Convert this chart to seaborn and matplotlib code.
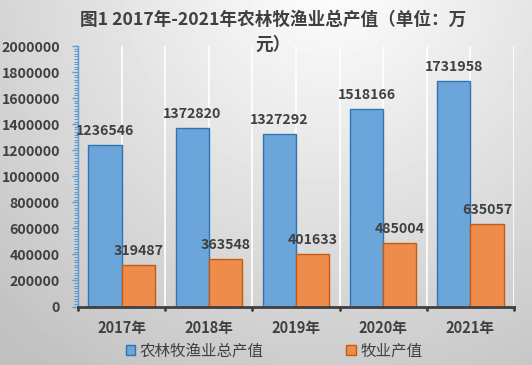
import numpy as np
import pandas as pd
import matplotlib
matplotlib.use("Agg")
import matplotlib.pyplot as plt
from matplotlib.ticker import MultipleLocator, FixedLocator, StrMethodFormatter
import seaborn as sns

# chart data
years = ["2017年", "2018年", "2019年", "2020年", "2021年"]
total_output = [1236546, 1372820, 1327292, 1518166, 1731958]
animal_output = [319487, 363548, 401633, 485004, 635057]
series_names = ["农林牧渔业总产值", "牧业产值"]

df = pd.DataFrame({
    "year": years * 2,
    "value": total_output + animal_output,
    "series": [series_names[0]] * len(years) + [series_names[1]] * len(years),
})

sns.set_style("white")
plt.rcParams['font.family'] = ['Noto Sans CJK SC', 'DejaVu Sans']
txt = "#404040"
fills = ["#6ca5da", "#ee8c4b"]
edges = ["#2e75b6", "#c55a11"]

fig = plt.figure(figsize=(5.32, 3.65), dpi=100)

# gradient background
bg = fig.add_axes([0, 0, 1, 1], zorder=-1)
yy, xx = np.mgrid[0:365, 0:532]
d = np.sqrt((xx - 330) ** 2 + (yy + 30) ** 2)
shade = 1 - 0.25 * np.clip(d / 500, 0, 1)
bg.imshow(shade, cmap="gray", vmin=0, vmax=1, aspect="auto")
bg.axis("off")

ax = fig.add_axes([78 / 532, 1 - 306.5 / 365, (514 - 78) / 532, (306.5 - 46) / 365])
ax.patch.set_alpha(0)

sns.barplot(data=df, x="year", y="value", hue="series", palette=fills,
            saturation=1, width=0.76, ax=ax, legend=False, zorder=3)
for cont, ec in zip(ax.containers, edges):
    for b in cont:
        b.set_edgecolor(ec)
        b.set_linewidth(1)
    ax.bar_label(cont, fmt="{:.0f}", padding=5, fontsize=10.2,
                 fontweight="bold", color=txt)

ax.set_xlim(-0.5, 4.5)
ax.set_ylim(0, 2000000)
ax.yaxis.set_major_locator(MultipleLocator(200000))
ax.yaxis.set_minor_locator(MultipleLocator(20000))
ax.yaxis.set_major_formatter(StrMethodFormatter("{x:.0f}"))
ax.xaxis.set_minor_locator(FixedLocator(np.arange(-0.5, 4.6, 0.5)))
ax.set_xlabel("")
ax.set_ylabel("")

ax.grid(axis="x", which="both", color="white", lw=1.2, zorder=0)
ax.set_axisbelow(True)

for s in ["top", "right"]:
    ax.spines[s].set_visible(False)
ax.spines["left"].set_color("#5b9bd5")
ax.spines["left"].set_linewidth(1)
ax.spines["bottom"].set_color(txt)
ax.spines["bottom"].set_linewidth(2)
ax.spines["bottom"].set_zorder(5)

ax.tick_params(axis="y", which="major", direction="out", color="#5b9bd5",
               length=4, width=1, labelsize=10.2, labelcolor=txt, left=True,
               pad=9)
ax.tick_params(axis="y", which="minor", direction="out", color="#5b9bd5",
               length=3, width=0.8, left=True)
ax.tick_params(axis="x", which="major", length=0, pad=10,
               labelsize=10.5, labelcolor=txt)
ax.tick_params(axis="x", which="minor", length=0)
for lab in ax.get_yticklabels() + ax.get_xticklabels():
    lab.set_fontweight("bold")

# boundary tick marks on x axis
for xb in np.arange(-0.5, 4.6, 1.0):
    ax.plot([xb, xb], [0, -0.015], transform=ax.get_xaxis_transform(),
            color=txt, lw=2, clip_on=False, zorder=6)

fig.text(0.513, 0.945, "图1 2017年-2021年农林牧渔业总产值（单位：万",
         ha="center", va="center", fontsize=12.7, fontweight="bold", color=txt)
fig.text(0.513, 0.878, "元）", ha="center", va="center",
         fontsize=12.7, fontweight="bold", color=txt)

handles = [plt.Rectangle((0, 0), 1, 1, facecolor=c, edgecolor=e, lw=1)
           for c, e in zip(fills, edges)]
fig.legend(handles, series_names, loc="center", bbox_to_anchor=(0.515, 0.038),
           ncol=2, frameon=False, fontsize=11.2, labelcolor=txt,
           handlelength=0.6, handleheight=0.6, handletextpad=0.3,
           columnspacing=5.3)

fig.savefig("out.png", dpi=100)
